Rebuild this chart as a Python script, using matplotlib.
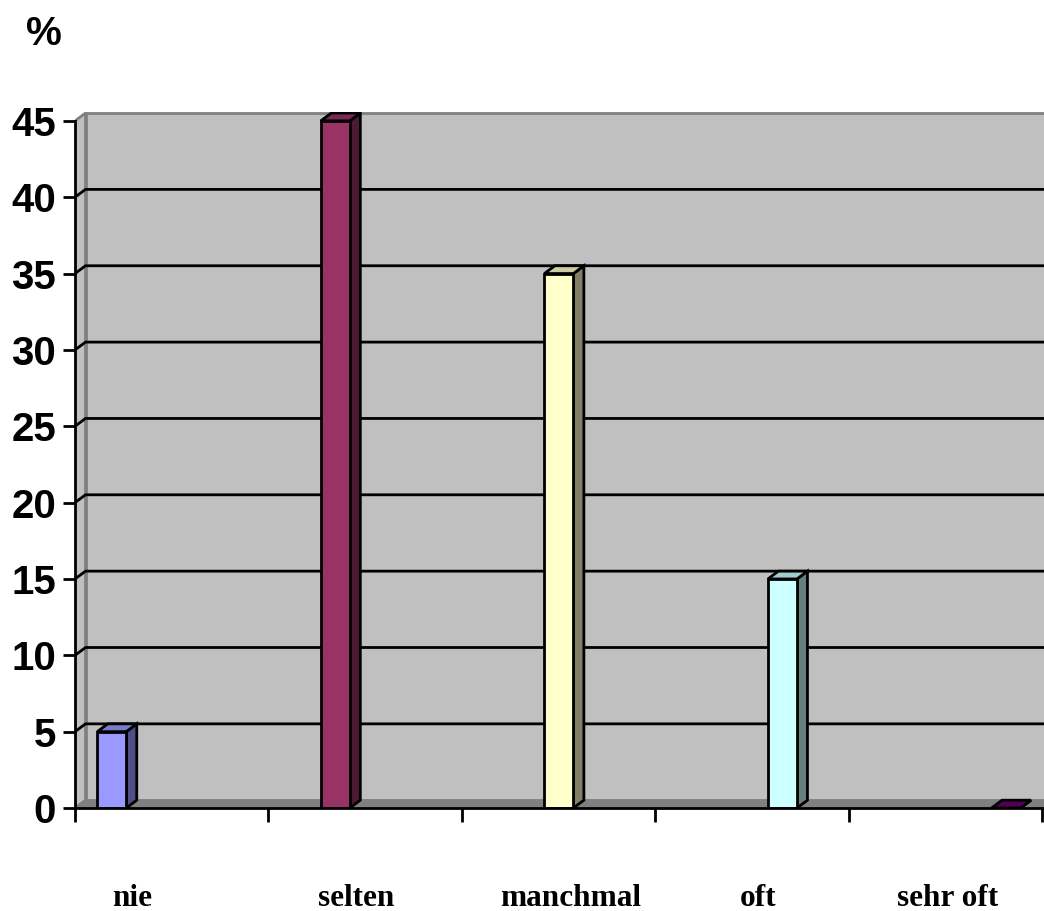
import matplotlib
matplotlib.use("Agg")
import matplotlib.pyplot as plt
from matplotlib.patches import Polygon, Rectangle
import numpy as np

# --- Data ---
categories = ["nie", "selten", "manchmal", "oft", "sehr oft"]
values = [5, 45, 35, 15, 0]
y_ticks = [0, 5, 10, 15, 20, 25, 30, 35, 40, 45]

front_colors = ["#9999FF", "#993366", "#FFFFCC", "#CCFFFF", "#660066"]
side_colors  = ["#4F4F85", "#4D1A33", "#808066", "#668080", "#330033"]
top_colors   = ["#7A7ACC", "#7A2952", "#CCCCA3", "#A3CCCC", "#520052"]

# --- Geometry (axis units: category boundaries at integers) ---
W, H = 1044, 911
px_x = 193.4                     # pixels per category slot
px_y = 15.27                     # pixels per percent
dx = 10.5 / px_x                 # depth offset (right)
dy = 7.8 / px_y                  # depth offset (up)
bar_w = 29 / px_x
bar_x = 0.19 + 1.156 * np.arange(len(categories))
label_x = [0.295, 1.453, 2.565, 3.532, 4.514]
xmax = (W - 75) / px_x
ymax = 45.6
lw = 2.0

fig = plt.figure(figsize=(W / 100, H / 100), dpi=100)
ax = fig.add_axes([75 / W, 103 / H, 1 - 75 / W, ymax * px_y / H])
ax.set_xlim(0, xmax)
ax.set_ylim(0, ymax)

# back wall, left wall, floor
ax.add_patch(Rectangle((dx, dy), xmax, 45, facecolor="#C0C0C0",
                       edgecolor="#808080", lw=lw, zorder=0.5))
ax.add_patch(Polygon([(0, 0), (dx, dy), (dx, 45 + dy), (0, 45)], closed=True,
                     facecolor="#C0C0C0", edgecolor="#808080", lw=lw, zorder=0.6))
for v in y_ticks[1:-1]:
    ax.plot([0, dx, xmax], [v, v + dy, v + dy], color="black", lw=lw,
            solid_capstyle="butt", zorder=1)
ax.add_patch(Polygon([(0, 0), (dx, dy), (xmax + 1, dy), (xmax + 1, 0)], closed=True,
                     facecolor="#808080", edgecolor="#808080", lw=1, zorder=1.5))

# 3D-looking bars
for c, v, fc, sc, tc in zip(bar_x, values, front_colors, side_colors, top_colors):
    l, r = c - bar_w / 2, c + bar_w / 2
    kw = dict(closed=True, edgecolor="black", lw=lw, joinstyle="miter", zorder=3)
    ax.add_patch(Polygon([(r, 0), (r + dx, dy), (r + dx, v + dy), (r, v)], facecolor=sc, **kw))
    ax.add_patch(Polygon([(l, v), (l + dx, v + dy), (r + dx, v + dy), (r, v)], facecolor=tc, **kw))
    ax.add_patch(Polygon([(l, 0), (r, 0), (r, v), (l, v)], facecolor=fc, **kw))

# axes styling
for s in ["top", "right"]:
    ax.spines[s].set_visible(False)
for s in ["left", "bottom"]:
    ax.spines[s].set_linewidth(lw)
    ax.spines[s].set_zorder(5)
ax.spines["left"].set_bounds(0, 45)

ax.set_yticks(y_ticks)
ax.set_yticklabels([str(t) for t in y_ticks], fontfamily="Liberation Sans",
                   fontweight="bold", fontsize=29)
ax.tick_params(axis="y", direction="out", length=8.6, width=lw, pad=5)
ax.set_xticks(np.arange(6))
ax.set_xticklabels([])
ax.tick_params(axis="x", direction="out", length=10, width=lw)

for xl, name in zip(label_x, categories):
    ax.text(xl, -(898 - 808) / px_y, name, ha="center", va="center",
            fontfamily="Liberation Serif", fontweight="bold", fontsize=22.5,
            clip_on=False)

fig.text(44 / W, 1 - 34 / H, "%", ha="center", va="center",
         fontfamily="Liberation Sans", fontweight="bold", fontsize=29)

fig.savefig("out.png", dpi=100)
